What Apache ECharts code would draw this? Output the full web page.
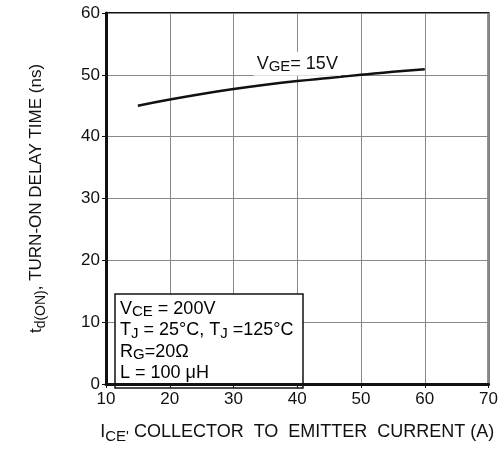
<!DOCTYPE html>
<html>
<head>
<meta charset="utf-8">
<script src="https://cdn.jsdelivr.net/npm/echarts@6/dist/echarts.min.js"></script>
<style>
  html, body { margin: 0; padding: 0; background: #fff; }
  #main { width: 501px; height: 449px; }
</style>
</head>
<body>
<div id="main"></div>
<script>
// collector current (A)
var currentA = [15, 20, 25, 30, 35, 40, 45, 50, 55, 60];
// turn-on delay time (ns), VGE = 15V
var delayNs = [45, 46, 46.9, 47.7, 48.4, 49, 49.5, 50, 50.5, 50.9];
// axis ticks
var xTicks = [10, 20, 30, 40, 50, 60, 70];
var yTicks = [0, 10, 20, 30, 40, 50, 60];

var font = "Liberation Sans, Arial, sans-serif";
var chart = echarts.init(document.getElementById("main"));

//文字样式(带下标)
function richStyle(size, subSize, pad) {
  return {
    n: { fontSize: size, fontFamily: font, color: "#111" },
    s: { fontSize: subSize, fontFamily: font, color: "#111", verticalAlign: "bottom", padding: [pad, 0, 0, 0] }
  };
}

//曲线数据
var lineData = [];
for (var i = 0; i < currentA.length; i++) {
  lineData.push([currentA[i], delayNs[i]]);
}

var option = {
  animation: false,
  grid: {
    left: 106, right: 10, top: 13, bottom: 53,
    show: true, borderColor: "#111", borderWidth: 2
  },
  xAxis: {
    type: "value",
    min: xTicks[0], max: xTicks[xTicks.length - 1], interval: 10,
    axisLine: { lineStyle: { color: "#111", width: 3 } },
    axisTick: { show: true, length: 4, lineStyle: { color: "#111", width: 1 } },
    axisLabel: { color: "#111", fontSize: 17, fontFamily: font, margin: 7 },
    splitLine: { lineStyle: { color: "#888", width: 1 } },
    name: "{n|I}{s|CE'}{n| COLLECTOR  TO  EMITTER  CURRENT (A)}",
    nameLocation: "middle",
    nameGap: 36,
    nameTextStyle: { rich: richStyle(18, 15, 9) }
  },
  yAxis: {
    type: "value",
    min: yTicks[0], max: yTicks[yTicks.length - 1], interval: 10,
    axisLine: { lineStyle: { color: "#111", width: 3 } },
    axisTick: { show: true, length: 4, lineStyle: { color: "#111", width: 1 } },
    axisLabel: { color: "#111", fontSize: 17, fontFamily: font, margin: 6 },
    splitLine: { lineStyle: { color: "#888", width: 1 } },
    name: "{n|t}{s|d(ON)}{n|, TURN-ON DELAY TIME (ns)}",
    nameLocation: "middle",
    nameRotate: 90,
    nameGap: 58,
    nameTextStyle: { rich: richStyle(17, 14, 9) }
  },
  series: [
    {
      type: "line",
      data: lineData,
      showSymbol: false,
      smooth: true,
      lineStyle: { color: "#111", width: 2.5 },
      markPoint: {
        symbol: "rect",
        symbolSize: 0,
        data: [{ coord: [40, 51.8] }],
        label: {
          show: true,
          position: "inside",
          formatter: "{n|V}{s|GE}{n|= 15V}",
          backgroundColor: "#fff",
          padding: [1, 3, 1, 3],
          rich: richStyle(18, 15, 7)
        }
      }
    }
  ]
};
chart.setOption(option);

//条件说明框
var boxLines = [
  "{n|V}{s|CE}{n| = 200V}",
  "{n|T}{s|J}{n| = 25°C, T}{s|J}{n| =125°C}",
  "{n|R}{s|G}{n|=20Ω}",
  "{n|L = 100 μH}"
];
var children = [{
  type: "rect",
  shape: { x: 115, y: 294, width: 188, height: 94 },
  style: { fill: "#fff", stroke: "#111", lineWidth: 1.5 }
}];
for (var j = 0; j < boxLines.length; j++) {
  children.push({
    type: "text",
    x: 120,
    y: 309 + j * 21.5,
    style: { text: boxLines[j], rich: richStyle(18, 15, 6), verticalAlign: "middle", align: "left" }
  });
}
chart.setOption({ graphic: [{ type: "group", children: children }] });
</script>
</body>
</html>
